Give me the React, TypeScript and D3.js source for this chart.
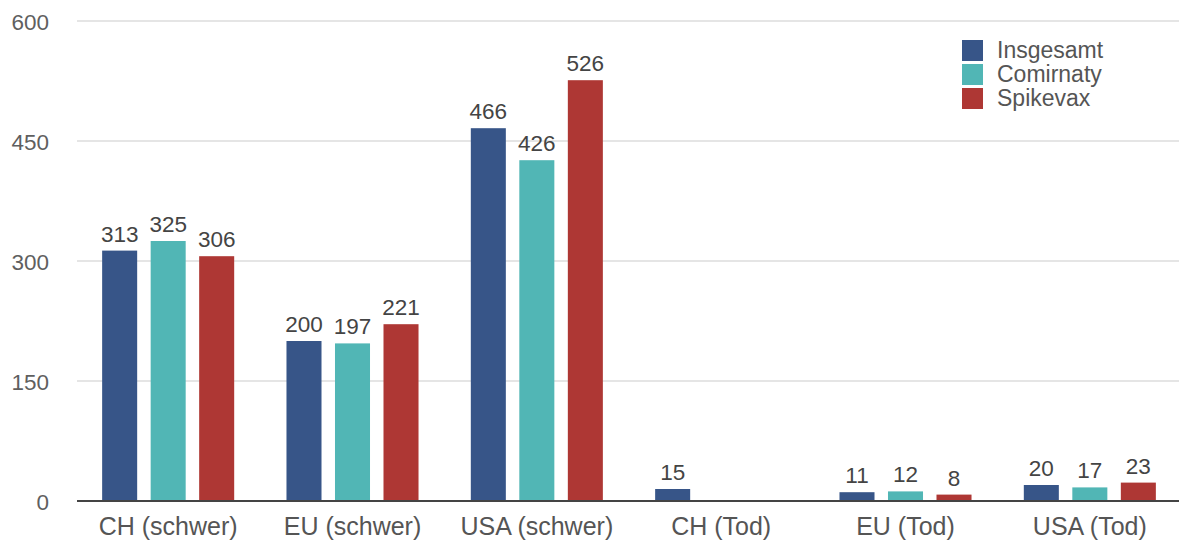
import React from "react";
import * as d3 from "d3";

const categories = ["CH (schwer)", "EU (schwer)", "USA (schwer)", "CH (Tod)", "EU (Tod)", "USA (Tod)"];
const seriesNames = ["Insgesamt", "Comirnaty", "Spikevax"];
const insgesamt: (number | null)[] = [313, 200, 466, 15, 11, 20];
const comirnaty: (number | null)[] = [325, 197, 426, null, 12, 17];
const spikevax: (number | null)[] = [306, 221, 526, null, 8, 23];
const yTicks = [0, 150, 300, 450, 600];
const colors = ["#375588", "#51b6b5", "#ae3734"];

const W = 1179;
const H = 541;
const FONT = "'Liberation Sans', Arial, Helvetica, sans-serif";

export default function App() {
  const values = [insgesamt, comirnaty, spikevax];
  const x0 = d3.scaleBand<string>().domain(categories).range([76, 1182]).padding(0);
  const x1 = d3
    .scaleBand<string>()
    .domain(seriesNames)
    .range([0, x0.step()])
    .paddingInner(0.278)
    .paddingOuter(0.539);
  const y = d3.scaleLinear().domain([0, 600]).range([501, 21]);
  const gridX1 = 77;

  return (
    <svg
      width={W}
      height={H}
      style={{ position: "absolute", left: 0, top: 0, background: "#fff" }}
      fontFamily={FONT}
    >
      {yTicks.map((t) =>
        t === 0 ? null : (
          <line key={"g" + t} x1={gridX1} x2={W} y1={y(t)} y2={y(t)} stroke="#dcdcdc" strokeWidth={1.5} />
        )
      )}
      {yTicks.map((t) => (
        <text key={"t" + t} x={49} y={y(t) + 9} textAnchor="end" fontSize={22.5} fill="#5f5f5f">
          {t}
        </text>
      ))}
      {categories.map((c, ci) => (
        <g key={c} transform={`translate(${x0(c)},0)`}>
          {seriesNames.map((s, si) => {
            const v = values[si][ci];
            if (v === null || v === undefined) return null;
            const bx = x1(s)!;
            const bw = x1.bandwidth();
            return (
              <g key={s}>
                <rect x={bx} y={y(v)} width={bw} height={y(0) - y(v)} fill={colors[si]} />
                <text
                  x={bx + bw / 2}
                  y={y(v) - 9}
                  textAnchor="middle"
                  fontSize={22.5}
                  fill="#444"
                >
                  {v}
                </text>
              </g>
            );
          })}
          <text x={x0.step() / 2} y={535} textAnchor="middle" fontSize={25} fill="#555">
            {c}
          </text>
        </g>
      ))}
      <line x1={gridX1} x2={W} y1={y(0)} y2={y(0)} stroke="#444" strokeWidth={1.8} />
      {seriesNames.map((s, si) => (
        <g key={"l" + s} transform={`translate(962, ${40 + si * 24})`}>
          <rect x={0} y={0} width={21} height={21} fill={colors[si]} />
          <text x={35} y={18} fontSize={23} fill="#555">
            {s}
          </text>
        </g>
      ))}
    </svg>
  );
}
